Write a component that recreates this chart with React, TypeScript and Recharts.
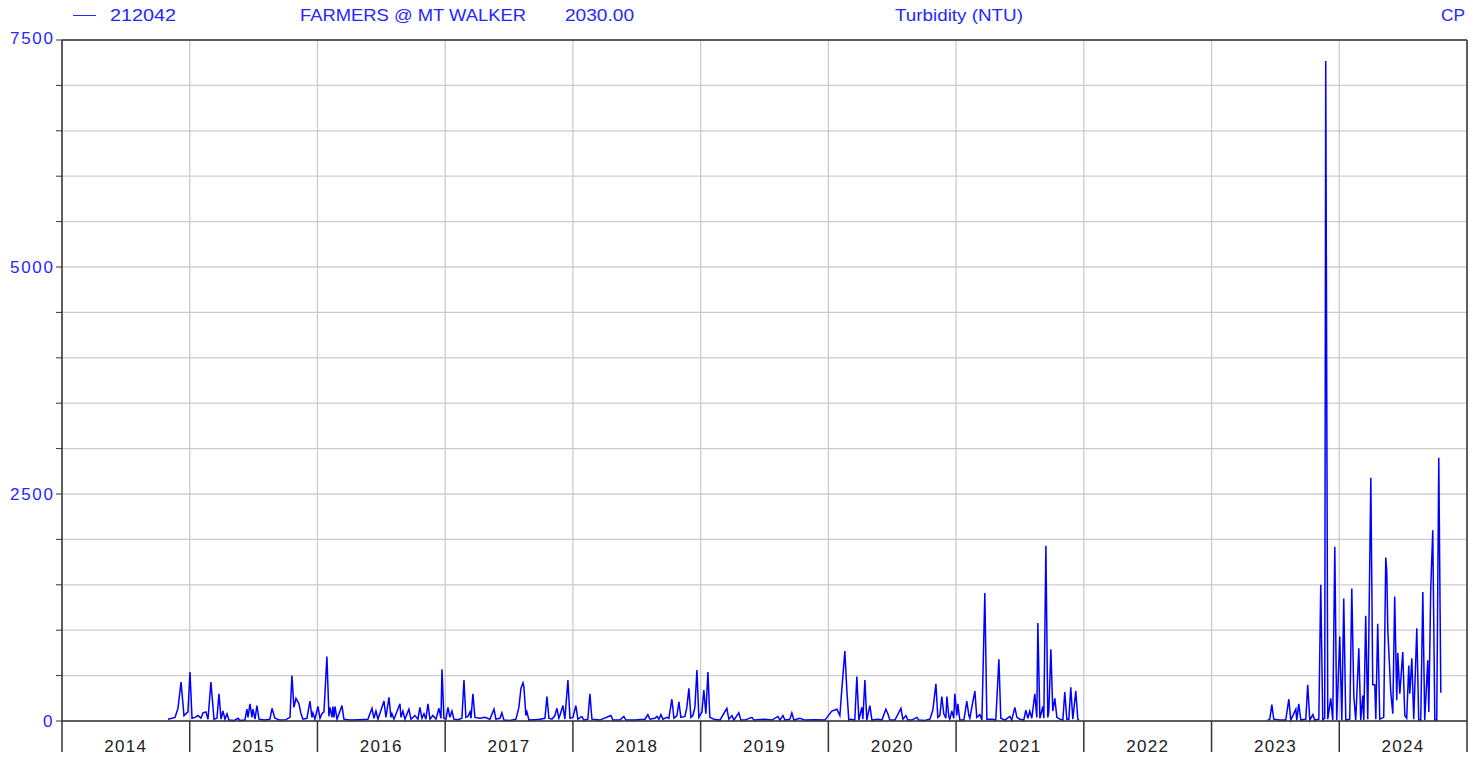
import { LineChart, Line, XAxis, YAxis, CartesianGrid, ReferenceLine } from 'recharts'

// decimal year of each reading, and turbidity (NTU)
const years2014to2017 = [
  2014.830, 2014.885, 2014.908, 2014.932, 2014.955, 2014.986, 2015.002, 2015.018, 2015.041, 2015.065,
  2015.088, 2015.104, 2015.127, 2015.143, 2015.166, 2015.190, 2015.213, 2015.229, 2015.245, 2015.260,
  2015.276, 2015.292, 2015.307, 2015.346, 2015.378, 2015.393, 2015.432, 2015.448, 2015.456, 2015.472,
  2015.487, 2015.495, 2015.511, 2015.526, 2015.542, 2015.589, 2015.628, 2015.644, 2015.667, 2015.706,
  2015.753, 2015.785, 2015.800, 2015.816, 2015.832, 2015.855, 2015.871, 2015.886, 2015.918, 2015.941,
  2015.957, 2015.965, 2015.980, 2016.004, 2016.020, 2016.035, 2016.051, 2016.059, 2016.074, 2016.090,
  2016.098, 2016.114, 2016.121, 2016.129, 2016.137, 2016.153, 2016.192, 2016.207, 2016.254, 2016.333,
  2016.395, 2016.427, 2016.442, 2016.458, 2016.474, 2016.521, 2016.536, 2016.560, 2016.575, 2016.583,
  2016.599, 2016.646, 2016.654, 2016.669, 2016.685, 2016.716, 2016.732, 2016.763, 2016.787, 2016.802,
  2016.818, 2016.834, 2016.849, 2016.865, 2016.881, 2016.904, 2016.928, 2016.951, 2016.967, 2016.975,
  2016.990, 2017.006, 2017.022, 2017.037, 2017.053, 2017.068, 2017.100, 2017.131, 2017.147, 2017.162,
  2017.178, 2017.194, 2017.202, 2017.217, 2017.233, 2017.272, 2017.311, 2017.350, 2017.382, 2017.397,
  2017.429, 2017.444, 2017.460, 2017.507, 2017.554, 2017.577, 2017.593, 2017.609, 2017.616, 2017.632,
  2017.640, 2017.656, 2017.703, 2017.742, 2017.781, 2017.797, 2017.812, 2017.836, 2017.859, 2017.875,
  2017.890, 2017.898, 2017.922, 2017.937, 2017.961, 2017.977,
]
const ntu2014to2017 = [
  20, 40, 140, 430, 60, 100, 540, 30, 40, 60,
  30, 90, 100, 20, 430, 20, 30, 300, 20, 110,
  20, 80, 10, 5, 30, 5, 10, 130, 40, 190,
  40, 130, 20, 170, 20, 10, 20, 140, 30, 10,
  15, 40, 500, 150, 250, 190, 80, 20, 30, 220,
  40, 90, 20, 160, 30, 80, 100, 310, 710, 50,
  150, 40, 160, 40, 160, 20, 170, 20, 10, 15,
  20, 140, 30, 110, 20, 220, 40, 260, 40, 80,
  20, 190, 40, 110, 20, 130, 20, 60, 20, 150,
  30, 80, 20, 190, 20, 60, 20, 140, 30, 570,
  30, 20, 150, 40, 110, 20, 15, 30, 450, 40,
  50, 100, 30, 300, 40, 30, 40, 20, 130, 20,
  30, 90, 10, 5, 20, 150, 360, 420, 380, 60,
  100, 10, 15, 20, 30, 270, 30, 20, 60, 140,
  30, 60, 170, 20, 450, 30,
]

const years2018to2021 = [
  2018.000, 2018.023, 2018.039, 2018.070, 2018.086, 2018.117, 2018.133, 2018.149, 2018.211, 2018.297,
  2018.313, 2018.368, 2018.399, 2018.415, 2018.485, 2018.564, 2018.587, 2018.603, 2018.642, 2018.658,
  2018.673, 2018.689, 2018.705, 2018.736, 2018.751, 2018.775, 2018.791, 2018.814, 2018.830, 2018.845,
  2018.877, 2018.892, 2018.908, 2018.924, 2018.939, 2018.955, 2018.971, 2018.986, 2019.010, 2019.025,
  2019.041, 2019.057, 2019.072, 2019.104, 2019.151, 2019.205, 2019.221, 2019.245, 2019.260, 2019.299,
  2019.315, 2019.346, 2019.401, 2019.417, 2019.503, 2019.558, 2019.605, 2019.620, 2019.644, 2019.660,
  2019.699, 2019.714, 2019.730, 2019.777, 2019.816, 2019.894, 2019.973, 2020.027, 2020.067, 2020.090,
  2020.106, 2020.129, 2020.145, 2020.160, 2020.176, 2020.207, 2020.223, 2020.239, 2020.262, 2020.270,
  2020.286, 2020.301, 2020.325, 2020.341, 2020.387, 2020.419, 2020.450, 2020.466, 2020.481, 2020.521,
  2020.568, 2020.583, 2020.607, 2020.622, 2020.654, 2020.693, 2020.708, 2020.755, 2020.795, 2020.818,
  2020.842, 2020.857, 2020.873, 2020.888, 2020.904, 2020.920, 2020.928, 2020.943, 2020.951, 2020.967,
  2020.982, 2020.990, 2021.006, 2021.014, 2021.029, 2021.061, 2021.084, 2021.100, 2021.108, 2021.123,
  2021.147, 2021.162, 2021.186, 2021.202, 2021.225, 2021.241, 2021.288, 2021.311, 2021.335, 2021.350,
  2021.382, 2021.421, 2021.436, 2021.460, 2021.476, 2021.499, 2021.530, 2021.546, 2021.562, 2021.577,
  2021.593, 2021.616, 2021.632, 2021.640, 2021.656, 2021.679, 2021.687, 2021.703, 2021.718, 2021.726,
  2021.742, 2021.757, 2021.773, 2021.789, 2021.812, 2021.836, 2021.851, 2021.867, 2021.883, 2021.898,
  2021.914, 2021.937, 2021.953, 2021.961,
]
const ntu2018to2021 = [
  40, 170, 20, 50, 10, 20, 300, 20, 10, 60,
  10, 10, 50, 10, 10, 20, 70, 20, 30, 50,
  20, 70, 20, 40, 30, 240, 30, 60, 210, 40,
  50, 150, 360, 40, 60, 150, 560, 40, 100, 340,
  80, 540, 40, 20, 10, 140, 20, 60, 10, 90,
  10, 10, 40, 10, 20, 10, 50, 10, 60, 10,
  20, 90, 10, 30, 10, 15, 10, 110, 130, 60,
  360, 770, 330, 10, 20, 10, 490, 10, 150, 20,
  450, 10, 170, 10, 20, 10, 130, 80, 10, 10,
  140, 20, 60, 10, 10, 40, 10, 5, 20, 120,
  410, 40, 60, 270, 80, 30, 270, 50, 20, 110,
  30, 300, 60, 190, 10, 10, 220, 60, 30, 150,
  330, 40, 70, 10, 1410, 20, 20, 10, 680, 30,
  10, 50, 10, 150, 40, 20, 10, 120, 30, 110,
  30, 300, 40, 1080, 30, 160, 30, 1930, 40, 100,
  790, 110, 250, 40, 20, 10, 320, 20, 20, 370,
  20, 330, 20, 10,
]

// no record through 2022
const gapYear = 2022.5

const years2023to2024 = [
  2023.440, 2023.456, 2023.472, 2023.487, 2023.534, 2023.581, 2023.605, 2023.620, 2023.660, 2023.667,
  2023.683, 2023.699, 2023.738, 2023.753, 2023.769, 2023.793, 2023.808, 2023.840, 2023.855, 2023.871,
  2023.886, 2023.894, 2023.910, 2023.933, 2023.949, 2023.965, 2023.980, 2024.004, 2024.020, 2024.035,
  2024.051, 2024.082, 2024.098, 2024.114, 2024.129, 2024.153, 2024.168, 2024.184, 2024.192, 2024.207,
  2024.223, 2024.247, 2024.262, 2024.278, 2024.286, 2024.301, 2024.317, 2024.348, 2024.364, 2024.372,
  2024.380, 2024.403, 2024.419, 2024.434, 2024.450, 2024.458, 2024.474, 2024.497, 2024.513, 2024.528,
  2024.544, 2024.552, 2024.568, 2024.583, 2024.607, 2024.622, 2024.638, 2024.654, 2024.669, 2024.693,
  2024.701, 2024.716, 2024.732, 2024.748, 2024.763, 2024.779, 2024.795,
]
const ntu2023to2024 = [
  10, 20, 180, 20, 10, 10, 240, 10, 130, 10,
  190, 10, 20, 400, 10, 70, 10, 20, 1500, 10,
  30, 7270, 20, 250, 10, 1920, 10, 930, 10, 1350,
  10, 20, 1460, 270, 10, 800, 10, 280, 10, 1160,
  20, 2680, 400, 400, 20, 1070, 20, 40, 1800, 1640,
  1000, 320, 80, 1370, 230, 750, 300, 760, 60, 30,
  610, 300, 690, 20, 1020, 10, 10, 1420, 10, 670,
  100, 1450, 2100, 10, 10, 2900, 310,
]

const yearTicks = [2014, 2015, 2016, 2017, 2018, 2019, 2020, 2021, 2022, 2023, 2024, 2025]
const ntuTicks = [0, 500, 1000, 1500, 2000, 2500, 3000, 3500, 4000, 4500, 5000, 5500, 6000, 6500, 7000, 7500]

const BLUE = '#2626ff'
const FONT = '"Liberation Sans", Arial, sans-serif'

const data = [
  ...years2014to2017.map((t, i) => ({ t, v: ntu2014to2017[i] as number | null })),
  ...years2018to2021.map((t, i) => ({ t, v: ntu2018to2021[i] as number | null })),
  { t: gapYear, v: null },
  ...years2023to2024.map((t, i) => ({ t, v: ntu2023to2024[i] as number | null })),
]

const HALF_YEAR_PX = 1405 / 11 / 2

function YearTick({ x, payload }: any) {
  if (payload.value >= 2025) return null
  return (
    <text x={x + HALF_YEAR_PX} y={746} textAnchor="middle" dominantBaseline="central"
      fill="#222" fontSize={17} letterSpacing={1.3} fontFamily={FONT}>
      {payload.value}
    </text>
  )
}

function NtuTick({ x, y, payload }: any) {
  if (payload.value % 2500 !== 0) return null
  const s = String(payload.value)
  const w = s.length * 11
  return (
    <text x={x - w} y={payload.value === 7500 ? y - 2 : y} dominantBaseline="central"
      fill={BLUE} fontSize={17} textLength={w - 1} lengthAdjust="spacing" fontFamily={FONT}>
      {s}
    </text>
  )
}

// header texts: [label, left x, width]
const headerItems: [string, number, number][] = [
  ['212042', 110, 66],
  ['FARMERS @ MT WALKER', 300, 226],
  ['2030.00', 565, 69],
  ['Turbidity (NTU)', 895, 128],
  ['CP', 1441, 24],
]

export default function App() {
  return (
    <div style={{ position: 'absolute', left: 0, top: 0, width: 1470, height: 760, background: '#fff' }}>
      <svg width={1470} height={32} style={{ position: 'absolute', left: 0, top: 0 }}>
        <line x1={73} x2={96} y1={15.5} y2={15.5} stroke={BLUE} strokeWidth={1} />
        {headerItems.map(([s, x, w]) => (
          <text key={s} x={x} y={21} fill={BLUE} fontSize={17} fontFamily={FONT}
            textLength={w} lengthAdjust="spacingAndGlyphs">{s}</text>
        ))}
      </svg>
      <LineChart width={1470} height={760} data={data}
        margin={{ top: 40, right: 3, bottom: 0, left: 0 }}>
        <CartesianGrid stroke="#cccccc" strokeWidth={1.3} />
        <XAxis dataKey="t" type="number" domain={[2014, 2025]} ticks={yearTicks}
          height={39} tickSize={31} tick={<YearTick />} interval={0}
          axisLine={{ stroke: '#333', strokeWidth: 1.5 }} tickLine={{ stroke: '#333', strokeWidth: 1.5 }} />
        <YAxis type="number" domain={[0, 7500]} ticks={ntuTicks} width={62}
          tickSize={6} tickMargin={2} tick={<NtuTick />} interval={0}
          axisLine={{ stroke: '#333', strokeWidth: 1.5 }} tickLine={{ stroke: '#333', strokeWidth: 1 }} />
        <ReferenceLine y={7500} stroke="#333" strokeWidth={1.5} />
        <ReferenceLine x={2025} stroke="#333" strokeWidth={1.5} />
        <Line type="linear" dataKey="v" stroke="#0000ff" strokeWidth={1.5} dot={false}
          connectNulls={false} isAnimationActive={false} />
      </LineChart>
    </div>
  )
}
